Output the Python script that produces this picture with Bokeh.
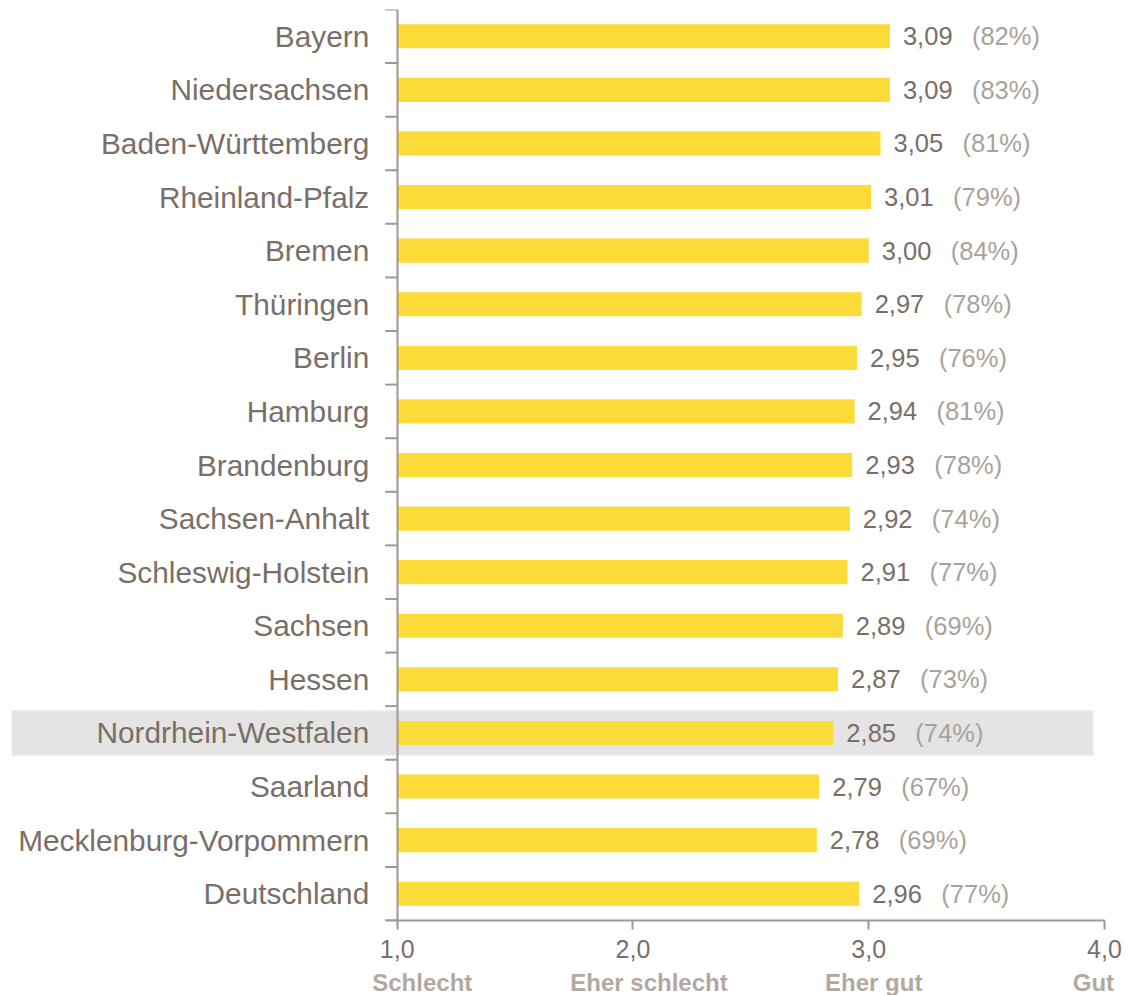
from bokeh.plotting import figure
from bokeh.models import ColumnDataSource, FactorRange, Range1d, LinearAxis, FixedTicker, CategoricalAxis
from bokeh.core.properties import value
from bokeh.embed import file_html
from bokeh.resources import INLINE

states = ["Bayern", "Niedersachsen", "Baden-Württemberg", "Rheinland-Pfalz", "Bremen",
          "Thüringen", "Berlin", "Hamburg", "Brandenburg", "Sachsen-Anhalt",
          "Schleswig-Holstein", "Sachsen", "Hessen", "Nordrhein-Westfalen", "Saarland",
          "Mecklenburg-Vorpommern", "Deutschland"]
scores = [3.09, 3.09, 3.05, 3.01, 3.00, 2.97, 2.95, 2.94, 2.93, 2.92, 2.91, 2.89, 2.87,
          2.85, 2.79, 2.78, 2.96]
shares = [82, 83, 81, 79, 84, 78, 76, 81, 78, 74, 77, 69, 73, 74, 67, 69, 77]
highlight = "Nordrhein-Westfalen"
tick_values = [1, 2, 3, 4]
tick_labels = ["1,0", "2,0", "3,0", "4,0"]
tick_words = ["Schlecht", "Eher schlecht", "Eher gut", "Gut"]

FONT = "Liberation Sans"
DARK = "#7a6e68"
LIGHT = "#aca19a"
AXIS = "#a29790"
YELLOW = "#fcda37"

px_per_unit = 235.3
x_start = 1 - 385 / px_per_unit
x_end = 4 + 15 / px_per_unit
# horizontal nudges (px) of the verbal scale descriptions relative to their ticks
word_nudge_px = [25, 16, 5, -11]

src = ColumnDataSource(dict(
    state=states,
    score=scores,
    score_txt=[f"{v:.2f}".replace(".", ",") for v in scores],
    share_txt=[f"({s}%)" for s in shares],
))

p = figure(y_range=FactorRange(factors=list(reversed(states)), range_padding=0),
           x_range=Range1d(x_start, x_end),
           frame_width=1108, frame_height=911,
           min_border_left=11, min_border_right=3, min_border_top=9, min_border_bottom=0,
           output_backend="svg", toolbar_location=None,
           x_axis_location=None, y_axis_location=None)
p.outline_line_color = None
p.grid.visible = False
p.background_fill_color = "white"
p.border_fill_color = "white"

# highlight band
p.hbar(y=[highlight], left=x_start, right=4 - 11 / px_per_unit, height=0.84,
       color="#e4e4e4", line_color=None)

# bars
p.hbar(y="state", left=1, right="score", height=0.45, source=src,
       fill_color=YELLOW, line_color=None)

# value labels
p.text(x="score", y="state", text="score_txt", source=src, x_offset=13,
       text_baseline="middle", text_align="left", text_font=value(FONT),
       text_font_size="25.5px", text_color=DARK)
p.text(x="score", y="state", text="share_txt", source=src, x_offset=82,
       text_baseline="middle", text_align="left", text_font=value(FONT),
       text_font_size="25.5px", text_color=LIGHT)

# category boundary ticks on y axis
n = len(states)
p.segment(x0=[1 - 12 / px_per_unit] * (n + 1), x1=[1] * (n + 1),
          y0=list(range(n + 1)), y1=list(range(n + 1)),
          line_color=AXIS, line_width=2)

# y axis at x = 1.0
yax = CategoricalAxis(fixed_location=1.0)
yax.axis_line_color = AXIS
yax.axis_line_width = 2
yax.major_tick_out = 0
yax.major_tick_in = 0
yax.major_label_standoff = 28
yax.major_label_text_font = FONT
yax.major_label_text_font_size = "29.8px"
yax.major_label_text_color = DARK
p.add_layout(yax, "left")

# x axis with numbers
xax = LinearAxis(ticker=FixedTicker(ticks=tick_values),
                 major_label_overrides={v: l for v, l in zip(tick_values, tick_labels)},
                 bounds=(1 - 12 / px_per_unit, 4))
xax.axis_line_color = AXIS
xax.axis_line_width = 2
xax.major_tick_line_color = AXIS
xax.major_tick_line_width = 2
xax.major_tick_out = 9
xax.major_tick_in = 0
xax.minor_tick_out = 0
xax.minor_tick_in = 0
xax.major_label_standoff = 10
xax.major_label_text_font = FONT
xax.major_label_text_font_size = "25px"
xax.major_label_text_color = DARK
p.add_layout(xax, "below")

# x axis with verbal descriptions
word_pos = [v + d / px_per_unit for v, d in zip(tick_values, word_nudge_px)]
xax2 = LinearAxis(ticker=FixedTicker(ticks=word_pos),
                  major_label_overrides={v: w for v, w in zip(word_pos, tick_words)})
xax2.axis_line_color = None
xax2.major_tick_line_color = None
xax2.minor_tick_line_color = None
xax2.major_tick_out = 0
xax2.major_tick_in = 0
xax2.major_label_standoff = 8
xax2.major_label_text_font = FONT
xax2.major_label_text_font_style = "bold"
xax2.major_label_text_font_size = "24px"
xax2.major_label_text_color = "#b3a8a1"
p.add_layout(xax2, "below")

open("out.html", "w").write(file_html(p, INLINE))
